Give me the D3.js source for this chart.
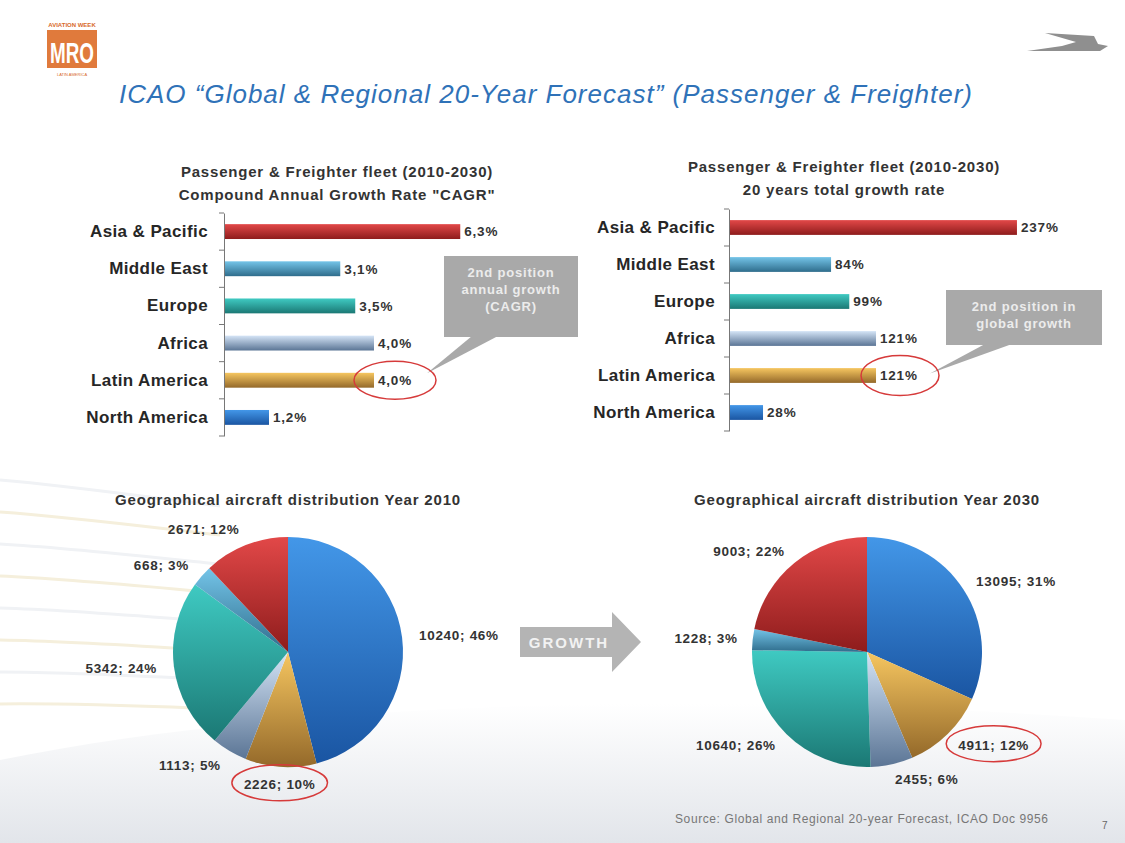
<!DOCTYPE html>
<html lang="en">
<head>
  <meta charset="UTF-8">
  <title>ICAO Global & Regional 20-Year Forecast</title>
  <script src="https://d3js.org/d3.v7.min.js"></script>
  <style>
    html, body { margin: 0; padding: 0; background: #fff; }
    svg { display: block; font-family: "Liberation Sans", Arial, sans-serif; }
    .cat text { font-size: 17px; font-weight: bold; fill: #262626; letter-spacing: 0.4px; }
    .val { font-size: 13.5px; font-weight: bold; fill: #333; letter-spacing: 0.8px; }
    .ctitle { font-size: 15px; font-weight: bold; fill: #333; letter-spacing: 0.8px; }
    .plabel { font-size: 13.5px; font-weight: bold; fill: #333; letter-spacing: 0.7px; }
  </style>
</head>
<body>
<script>
  const width = 1125;
  const height = 843;

  // data
  const regions = ['Asia & Pacific', 'Middle East', 'Europe', 'Africa', 'Latin America', 'North America'];
  const cagr = [6.3, 3.1, 3.5, 4.0, 4.0, 1.2];
  const totalGrowth = [237, 84, 99, 121, 121, 28];
  const fleet2010 = [2671, 668, 5342, 1113, 2226, 10240];
  const share2010 = [12, 3, 24, 5, 10, 46];
  const fleet2030 = [9003, 1228, 10640, 2455, 4911, 13095];
  const share2030 = [22, 3, 26, 6, 12, 31];

  // top / bottom gradient colours per region
  const colors = [
    ['#e24848', '#8e1c1c'],
    ['#74c4e8', '#2f6d8c'],
    ['#3fcac2', '#1b7874'],
    ['#d4e4f6', '#5b7595'],
    ['#f6c660', '#94692a'],
    ['#4397e8', '#1a55a2']
  ];

  const svg = d3.select('body').append('svg')
    .attr('width', width).attr('height', height);

  const defs = svg.append('defs');
  colors.forEach((c, i) => {
    const g = defs.append('linearGradient').attr('id', 'g' + i)
      .attr('x1', 0).attr('y1', 0).attr('x2', 0).attr('y2', 1);
    g.append('stop').attr('offset', '0%').attr('stop-color', c[0]);
    g.append('stop').attr('offset', '100%').attr('stop-color', c[1]);
  });
  const bg = defs.append('linearGradient').attr('id', 'bgfade')
    .attr('x1', 0).attr('y1', 0).attr('x2', 0).attr('y2', 1);
  bg.append('stop').attr('offset', '0%').attr('stop-color', '#ffffff');
  bg.append('stop').attr('offset', '100%').attr('stop-color', '#e2e5ea');

  // background decoration (slide template)
  svg.append('path')
    .attr('d', 'M0,760 C300,700 700,690 1125,720 L1125,843 L0,843 Z')
    .attr('fill', 'url(#bgfade)');
  [0, 1, 2, 3, 4, 5, 6, 7].forEach(k => {
    svg.append('path')
      .attr('d', `M0,${480 + k * 32} C70,${486 + k * 31} 140,${496 + k * 30} 220,${506 + k * 29}`)
      .attr('fill', 'none')
      .attr('stroke', k % 2 ? '#f5efdc' : '#f0f2f5')
      .attr('stroke-width', 3);
  });

  // MRO logo
  const logo = svg.append('g');
  logo.append('rect').attr('x', 47).attr('y', 30).attr('width', 50).attr('height', 38).attr('fill', '#e07a3c');
  logo.append('text').attr('x', 72).attr('y', 63).attr('text-anchor', 'middle')
    .attr('font-size', 30).attr('font-weight', 'bold').attr('fill', '#fff')
    .attr('textLength', 44).attr('lengthAdjust', 'spacingAndGlyphs').text('MRO');
  logo.append('text').attr('x', 72).attr('y', 27).attr('text-anchor', 'middle')
    .attr('font-size', 6).attr('font-weight', 'bold').attr('fill', '#d86a2a').text('AVIATION WEEK');
  logo.append('text').attr('x', 72).attr('y', 76).attr('text-anchor', 'middle')
    .attr('font-size', 4).attr('fill', '#d86a2a').text('LATIN AMERICA');

  // airline logo top right
  svg.append('path')
    .attr('d', 'M1027,51 L1100,51 L1108,46 L1098,44 L1094,36 L1045,33 L1076,42 L1062,46 Z')
    .attr('fill', '#8f8f8f');

  // main title
  svg.append('text')
    .attr('x', 546).attr('y', 103).attr('text-anchor', 'middle')
    .attr('font-size', 26).attr('font-style', 'italic').attr('fill', '#2f72b8')
    .attr('letter-spacing', 1)
    .text('ICAO \u201CGlobal & Regional 20-Year Forecast\u201D (Passenger & Freighter)');

  function barChart(o) {
    const g = svg.append('g');
    const x = d3.scaleLinear().domain(o.domain).range(o.xRange);
    const y = d3.scaleBand().domain(regions).range(o.yRange)
      .paddingInner(0.6).paddingOuter(0.3);

    g.selectAll('.ctitle').data(o.title).join('text')
      .attr('class', 'ctitle')
      .attr('x', o.titleX).attr('y', (d, i) => o.titleY + i * 23)
      .attr('text-anchor', 'middle').text(d => d);

    g.selectAll('.bar').data(o.values).join('rect')
      .attr('class', 'bar')
      .attr('x', x(0)).attr('y', (d, i) => y(regions[i]))
      .attr('width', d => x(d) - x(0)).attr('height', y.bandwidth())
      .attr('fill', (d, i) => `url(#g${i})`);

    g.selectAll('.val').data(o.values).join('text')
      .attr('class', 'val')
      .attr('x', d => x(d) + 4)
      .attr('y', (d, i) => y(regions[i]) + y.bandwidth() / 2)
      .attr('dy', '0.36em')
      .text(o.fmt);

    g.append('g').attr('class', 'cat')
      .attr('transform', `translate(${x(0)},0)`)
      .call(d3.axisLeft(y).tickSize(0).tickPadding(o.pad))
      .call(a => a.select('.domain').attr('stroke', '#777'))
      .call(a => a.selectAll('text').attr('font-family', null).attr('font-size', null));

    // tick marks between categories
    const bounds = d3.range(regions.length + 1).map(i => o.yRange[0] + i * y.step());
    g.selectAll('.tk').data(bounds).join('line')
      .attr('x1', x(0) - 5).attr('x2', x(0))
      .attr('y1', d => d).attr('y2', d => d)
      .attr('stroke', '#777');
    return {x, y};
  }

  const left = barChart({
    values: cagr, domain: [0, 7], xRange: [224, 224 + 7 * 37.5],
    yRange: [213, 436], pad: 16,
    title: ['Passenger & Freighter fleet (2010-2030)', 'Compound Annual Growth Rate "CAGR"'],
    titleX: 337, titleY: 177,
    fmt: d => d.toFixed(1).replace('.', ',') + '%'
  });

  const right = barChart({
    values: totalGrowth, domain: [0, 250], xRange: [729, 729 + 250 * 1.215],
    yRange: [209, 431], pad: 14,
    title: ['Passenger & Freighter fleet (2010-2030)', '20 years total growth rate'],
    titleX: 844, titleY: 172,
    fmt: d => d + '%'
  });

  // callouts
  function callout(box, lines, tip, base) {
    const g = svg.append('g');
    g.append('path')
      .attr('d', `M${base[0]},${box.y + box.h - 1} L${tip[0]},${tip[1]} L${base[1]},${box.y + box.h - 1} Z`)
      .attr('fill', '#a9a9a9');
    g.append('rect').attr('x', box.x).attr('y', box.y).attr('width', box.w).attr('height', box.h)
      .attr('fill', '#a9a9a9');
    g.selectAll('text').data(lines).join('text')
      .attr('x', box.x + box.w / 2).attr('y', (d, i) => box.y + box.ty + i * 17)
      .attr('text-anchor', 'middle').attr('font-size', 13).attr('font-weight', 'bold')
      .attr('letter-spacing', 0.8)
      .attr('fill', '#ececec').text(d => d);
  }
  function ring(cx, cy, rx, ry) {
    svg.append('ellipse').attr('cx', cx).attr('cy', cy).attr('rx', rx).attr('ry', ry)
      .attr('fill', 'none').attr('stroke', '#d63a3a').attr('stroke-width', 1.5);
  }

  const li = regions.indexOf('Latin America');
  const ly = left.y(regions[li]) + left.y.bandwidth() / 2;
  callout({x: 444, y: 256, w: 134, h: 81, ty: 21}, ['2nd position', 'annual growth', '(CAGR)'],
    [left.x(cagr[li]) + 53, ly - 7], [472, 498]);
  ring(left.x(cagr[li]) + 21, ly, 41, 19);

  const ry = right.y(regions[li]) + right.y.bandwidth() / 2;
  callout({x: 946, y: 290, w: 156, h: 55, ty: 21}, ['2nd position in', 'global growth'],
    [right.x(totalGrowth[li]) + 54, ry - 2], [985, 1012]);
  ring(right.x(totalGrowth[li]) + 24, ry, 39, 20);

  // pies, clockwise from 12 o'clock: North America first
  const order = d3.range(regions.length).reverse();
  function pieChart(o) {
    const g = svg.append('g').attr('transform', `translate(${o.cx},${o.cy})`);
    const data = order.map(i => ({i, v: o.values[i], s: o.shares[i]}));
    const arcs = d3.pie().sort(null).value(d => d.v)(data);
    const arc = d3.arc().innerRadius(0).outerRadius(o.r);
    const lab = d3.arc().innerRadius(o.lr).outerRadius(o.lr);

    svg.append('text').attr('class', 'ctitle')
      .attr('x', o.cx).attr('y', o.cy - 147).attr('text-anchor', 'middle').text(o.title);

    g.selectAll('path').data(arcs).join('path')
      .attr('d', arc).attr('fill', d => `url(#g${d.data.i})`);

    const labels = g.selectAll('.plabel').data(arcs).join('text')
      .attr('class', 'plabel')
      .attr('transform', d => `translate(${lab.centroid(d)})`)
      .attr('dy', '0.36em')
      .attr('text-anchor', d => {
        const a = (d.startAngle + d.endAngle) / 2;
        if (Math.abs(Math.sin(a)) < 0.15) return 'middle';
        return Math.sin(a) > 0 ? 'start' : 'end';
      })
      .text(d => `${d.data.v}; ${d.data.s}%`);

    // red ring around the highlighted label
    labels.filter(d => d.data.i === o.mark).each(function (d) {
      const b = this.getBBox();
      const c = lab.centroid(d);
      const anchor = d3.select(this).attr('text-anchor');
      const off = anchor === 'start' ? b.width / 2 : anchor === 'end' ? -b.width / 2 : 0;
      ring(o.cx + c[0] + off, o.cy + c[1] - 1, b.width / 2 + 12, 18);
    });
  }

  pieChart({cx: 288, cy: 652, r: 115, lr: 132, values: fleet2010, shares: share2010,
    title: 'Geographical aircraft distribution Year 2010', mark: li});
  pieChart({cx: 867, cy: 652, r: 115, lr: 130, values: fleet2030, shares: share2030,
    title: 'Geographical aircraft distribution Year 2030', mark: li});

  // growth arrow
  svg.append('path')
    .attr('d', 'M520,627 L612,627 L612,612 L641,642 L612,672 L612,657 L520,657 Z')
    .attr('fill', '#b4b4b4');
  svg.append('text').attr('x', 569).attr('y', 648).attr('text-anchor', 'middle')
    .attr('font-size', 15).attr('font-weight', 'bold').attr('fill', '#f2f2f2')
    .attr('letter-spacing', 2).text('GROWTH');

  // footer
  svg.append('text').attr('x', 675).attr('y', 823)
    .attr('font-size', 12).attr('fill', '#777').attr('letter-spacing', 0.6)
    .text('Source: Global and Regional 20-year Forecast, ICAO Doc 9956');
  svg.append('text').attr('x', 1102).attr('y', 829)
    .attr('font-size', 10).attr('fill', '#666').text('7');
</script>
</body>
</html>
